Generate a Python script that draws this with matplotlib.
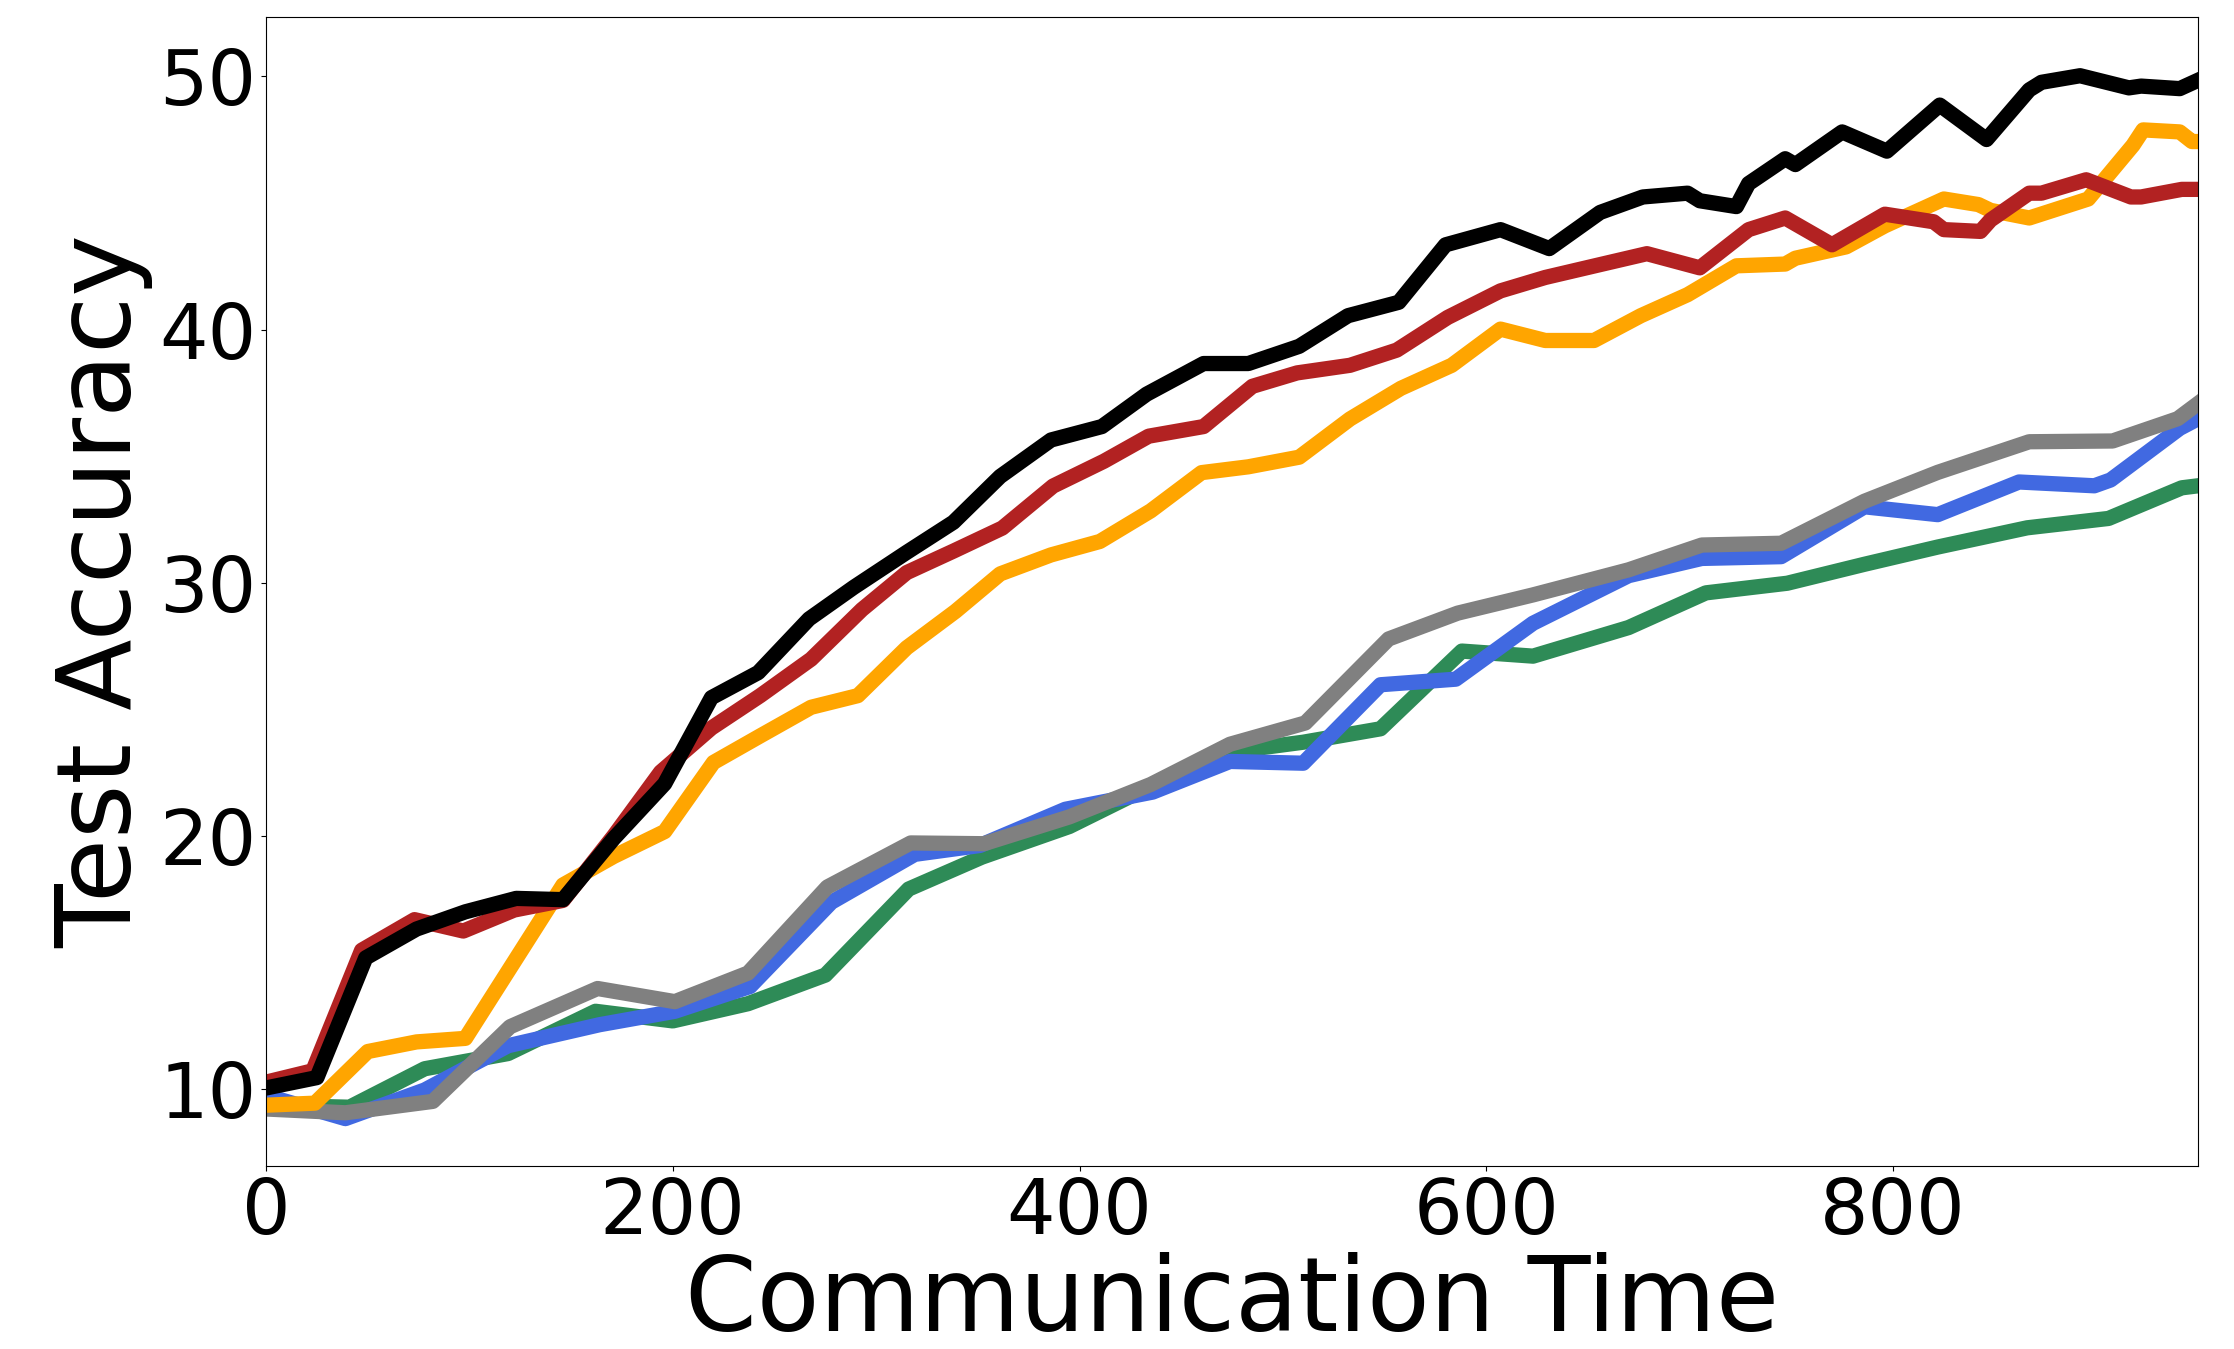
import matplotlib
matplotlib.use('Agg')
import matplotlib.pyplot as plt

# Test accuracy against cumulative communication time, one curve per method
black_t = [0, 25, 49, 74, 98, 123, 146, 171, 196, 219, 242, 267, 289, 315, 338,
           361, 386, 411, 433, 461, 483, 508, 532, 557, 580, 607, 631, 656, 677,
           699, 705, 723, 729, 747, 752, 775, 797, 823, 846, 867, 873, 892, 916,
           922, 941, 950]
black_acc = [10.04, 10.45, 15.18, 16.32, 17.0, 17.53, 17.48, 19.9, 22.06, 25.46,
             26.45, 28.57, 29.82, 31.2, 32.39, 34.2, 35.64, 36.17, 37.45, 38.66,
             38.66, 39.34, 40.55, 41.08, 43.35, 43.95, 43.2, 44.63, 45.24, 45.39,
             45.09, 44.86, 45.77, 46.75, 46.52, 47.81, 47.05, 48.87, 47.51, 49.47,
             49.77, 50.03, 49.55, 49.62, 49.52, 49.85]

red_t = [0, 23, 47, 73, 97, 122, 146, 171, 194, 219, 243, 268, 293, 315, 338,
         362, 387, 412, 434, 461, 485, 507, 533, 556, 581, 607, 629, 655, 679,
         705, 729, 747, 770, 796, 820, 825, 843, 848, 867, 873, 895, 917, 922,
         942, 950]
red_acc = [10.27, 10.72, 15.48, 16.69, 16.24, 17.07, 17.45, 20.0, 22.52, 24.26,
           25.54, 26.98, 28.94, 30.4, 31.25, 32.16, 33.82, 34.8, 35.79, 36.17,
           37.76, 38.29, 38.59, 39.19, 40.48, 41.53, 42.06, 42.55, 43.0, 42.44,
           43.95, 44.41, 43.35, 44.56, 44.26, 43.95, 43.88, 44.33, 45.39, 45.39,
           45.92, 45.24, 45.24, 45.54, 45.54]

orange_t = [0, 24, 50, 74, 98, 122, 146, 171, 196, 220, 243, 268, 291, 315, 339,
            361, 386, 410, 435, 460, 483, 508, 533, 558, 583, 607, 629, 653, 676,
            699, 723, 747, 752, 777, 796, 825, 842, 848, 867, 896, 918, 923, 941,
            947, 950]
orange_acc = [9.36, 9.44, 11.48, 11.86, 12.0, 15.03, 18.06, 19.19, 20.17, 22.9,
              23.95, 25.08, 25.54, 27.43, 28.87, 30.35, 31.1, 31.63, 32.84, 34.35,
              34.58, 34.96, 36.47, 37.68, 38.59, 40.02, 39.57, 39.57, 40.55, 41.38,
              42.52, 42.59, 42.82, 43.27, 44.1, 45.16, 44.94, 44.71, 44.41, 45.16,
              47.28, 47.89, 47.81, 47.43, 47.43]

gray_t = [0, 39, 82, 120, 163, 201, 237, 276, 317, 353, 395, 435, 474, 511, 552,
          586, 623, 670, 706, 745, 786, 822, 867, 908, 940, 950]
gray_acc = [9.21, 9.06, 9.51, 12.46, 13.97, 13.45, 14.58, 17.98, 19.72, 19.69,
            20.75, 22.03, 23.62, 24.46, 27.78, 28.8, 29.52, 30.51, 31.49, 31.56,
            33.22, 34.36, 35.57, 35.6, 36.48, 37.08]

blue_t = [0, 39, 78, 119, 164, 201, 238, 278, 319, 351, 393, 436, 474, 510, 548,
          585, 623, 670, 706, 745, 786, 822, 862, 899, 907, 941, 950]
blue_acc = [9.74, 8.83, 9.96, 11.71, 12.54, 13.07, 14.05, 17.38, 19.27, 19.62,
            21.05, 21.73, 22.94, 22.87, 25.97, 26.19, 28.4, 30.28, 30.96, 31.03,
            33.0, 32.69, 33.98, 33.83, 34.06, 36.1, 36.48]

green_t = [0, 41, 78, 119, 162, 200, 237, 275, 316, 352, 395, 435, 474, 510, 548,
           588, 623, 670, 708, 748, 786, 822, 866, 906, 942, 950]
green_acc = [9.36, 9.28, 10.8, 11.4, 13.07, 12.69, 13.37, 14.5, 17.9, 19.16,
             20.37, 21.96, 23.32, 23.7, 24.23, 27.3, 27.1, 28.23, 29.6, 29.98,
             30.73, 31.41, 32.17, 32.54, 33.75, 33.83]

fig = plt.figure(figsize=(22.34, 13.49), dpi=100)
ax = fig.add_axes([0.1191, 0.1357, 0.8648, 0.8517])

lw = 11
ax.plot(green_t, green_acc, color='seagreen', linewidth=lw)
ax.plot(blue_t, blue_acc, color='royalblue', linewidth=lw)
ax.plot(gray_t, gray_acc, color='gray', linewidth=lw)
ax.plot(orange_t, orange_acc, color='orange', linewidth=lw)
ax.plot(red_t, red_acc, color='firebrick', linewidth=lw)
ax.plot(black_t, black_acc, color='black', linewidth=lw)

ax.set_xlim(0, 950)
ax.set_ylim(6.96, 52.35)
ax.set_xticks([0, 200, 400, 600, 800])
ax.set_yticks([10, 20, 30, 40, 50])
ax.tick_params(labelsize=55)
ax.set_xlabel('Communication Time', fontsize=74, labelpad=2)
ax.set_ylabel('Test Accuracy', fontsize=75)

plt.savefig('out.png', dpi=100)
